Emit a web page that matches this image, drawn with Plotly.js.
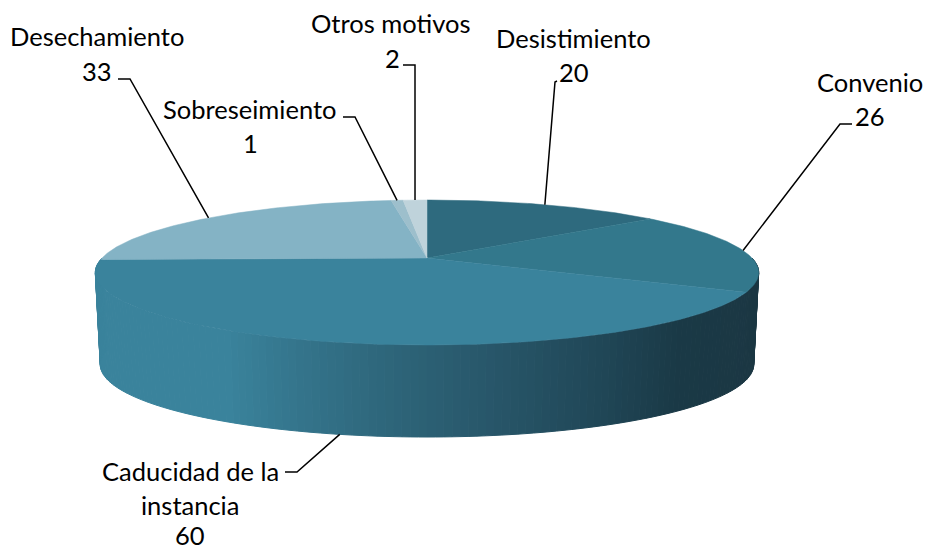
<!DOCTYPE html>
<html><head><meta charset="utf-8">
<script src="https://cdn.plot.ly/plotly-3.0.1.min.js"></script>
<style>html,body{margin:0;padding:0;background:#fff}#c{width:927px;height:549px}</style>
</head><body><div id="c"></div>
<script>
// Data
const categories = ['Desistimiento','Convenio','Caducidad de la instancia','Desechamiento','Sobreseimiento','Otros motivos'];
const values = [20,26,60,33,1,2];
const labelLines = [['Desistimiento'],['Convenio'],['Caducidad de la','instancia'],['Desechamiento'],['Sobreseimiento'],['Otros motivos']];
const colors = ['#2e6a7e','#33788c','#3a839c','#84b3c5','#9dbfcc','#bfd3db'];

// Layout of the perspective disc
const cx=427, cy=258, a=325, b=69.6, k=0.2, depth=92, shrink=0.985;
const labelX = [[573],[870],[190,190],[97],[250],[391]];
const labelY = [[38],[82],[471,505],[36],[109],[23]];
const valueX = [574,870,190,97,250,392];
const valueY = [72,116,535,71,143,58];
const elbows = [[[557,81],[555,82]],[[852,124],[840,124]],[[285,472],[297,472]],[[118,79],[130,79]],[[343,117],[355,117]],[[403,65],[415,65]]];
const wallStops = [[95,'#3a839c'],[225,'#3a839c'],[300,'#34748b'],[400,'#2d6478'],[500,'#275568'],[600,'#204757'],[680,'#1a3946'],[760,'#1b3743']];

function topPt(theta,r=1){const u=r*Math.sin(theta),v=r*Math.cos(theta),w=1+k*v;return [cx+a*u/w,cy-b*v/w];}
function botPt(theta){const p=topPt(theta);return [cx+(p[0]-cx)*shrink,p[1]+depth];}
function hex(c){return [1,3,5].map(i=>parseInt(c.substr(i,2),16));}
function wallColor(x){
  for(let i=0;i<wallStops.length-1;i++){
    const [x0,c0]=wallStops[i],[x1,c1]=wallStops[i+1];
    if(x<=x1){const t=Math.max(0,(x-x0)/(x1-x0));const A=hex(c0),B=hex(c1);
      return 'rgb('+A.map((q,j)=>Math.round(q+(B[j]-q)*t)).join(',')+')';}
  }
  return wallStops[wallStops.length-1][1];
}
const total=values.reduce((s,v)=>s+v,0);
const traces=[];
// Side wall
const N=150, t0=Math.PI*0.5, t1=Math.PI*1.5;
for(let i=0;i<N;i++){
  const A=t0+(t1-t0)*i/N,B=t0+(t1-t0)*(i+1)/N;
  const P=[topPt(A),topPt(B),botPt(B),botPt(A),topPt(A)];
  const col=wallColor((P[0][0]+P[1][0])/2);
  traces.push({type:'scatter',mode:'lines',x:P.map(p=>p[0]),y:P.map(p=>p[1]),fill:'toself',fillcolor:col,
    line:{color:col,width:1},hoverinfo:'skip',showlegend:false});
}
// Top slices
let acc=0; const mids=[];
values.forEach((val,i)=>{
  const s=acc/total*2*Math.PI,e=(acc+val)/total*2*Math.PI; acc+=val; mids.push((s+e)/2);
  const xs=[cx],ys=[cy],n=Math.max(4,Math.ceil(val*4));
  for(let j=0;j<=n;j++){const p=topPt(s+(e-s)*j/n);xs.push(p[0]);ys.push(p[1]);}
  xs.push(cx);ys.push(cy);
  traces.push({type:'scatter',mode:'lines',x:xs,y:ys,fill:'toself',fillcolor:colors[i],
    line:{color:colors[i],width:0.5},name:categories[i],hoverinfo:'name',showlegend:false});
});
// Leader lines
values.forEach((val,i)=>{
  const isFront=Math.cos(mids[i])<-0.5;
  const end=isFront?botPt(mids[i]):topPt(mids[i]);
  const pts=[...elbows[i],end];
  traces.push({type:'scatter',mode:'lines',x:pts.map(p=>p[0]),y:pts.map(p=>p[1]),
    line:{color:'#000',width:1.5},hoverinfo:'skip',showlegend:false});
});
// Labels
const annotations=[];
const font={family:'Lato, sans-serif',size:25.5,color:'#000'};
labelLines.forEach((lines,i)=>{
  lines.forEach((t,j)=>annotations.push({x:labelX[i][j],y:labelY[i][j],text:t,showarrow:false,xanchor:'center',yanchor:'middle',font}));
  annotations.push({x:valueX[i],y:valueY[i],text:String(values[i]),showarrow:false,xanchor:'center',yanchor:'middle',font});
});
Plotly.newPlot('c',traces,{
  width:927,height:549,margin:{l:0,r:0,t:0,b:0},paper_bgcolor:'#fff',plot_bgcolor:'#fff',
  xaxis:{range:[0,927],visible:false,fixedrange:true},
  yaxis:{range:[549,0],visible:false,fixedrange:true},
  annotations,showlegend:false
},{displayModeBar:false,staticPlot:true});
</script></body></html>
